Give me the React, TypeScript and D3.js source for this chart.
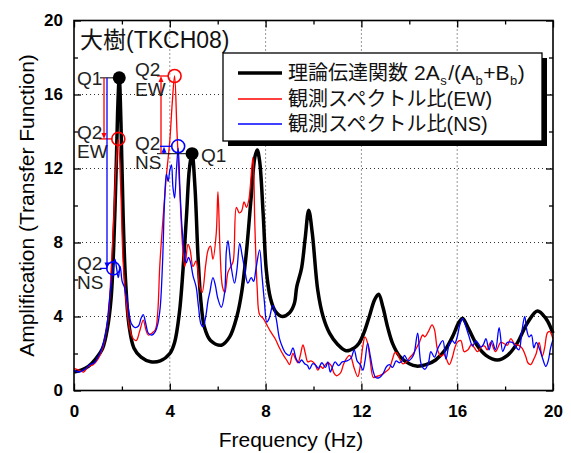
import * as d3 from 'd3';
import { useEffect, useRef } from 'react';

// frequency (Hz), amplification
const theory: [number, number][] = [
  [0, 1.0], [0.3, 1.1], [0.6, 1.3], [0.9, 1.7], [1.2, 2.3], [1.4, 3.4], [1.55, 5.0], [1.65, 7.5],
  [1.75, 11.5], [1.82, 15.0], [1.89, 16.9], [1.96, 14.5], [2.05, 9.5], [2.15, 6.0], [2.3, 3.5],
  [2.5, 2.3], [2.8, 1.8], [3.2, 1.55], [3.6, 1.6], [4.0, 2.0], [4.2, 2.6], [4.4, 4.2], [4.55, 6.5],
  [4.7, 9.5], [4.82, 12.0], [4.93, 12.8], [5.05, 11.0], [5.18, 7.2], [5.3, 4.8], [5.45, 3.4],
  [5.7, 2.7], [6.15, 2.45], [6.5, 2.9], [6.8, 4.0], [7.0, 5.3], [7.2, 7.5], [7.4, 10.5],
  [7.55, 12.6], [7.65, 13.0], [7.75, 12.4], [7.9, 9.5], [8.03, 6.5], [8.2, 5.0], [8.4, 4.3],
  [8.7, 4.0], [9.0, 4.2], [9.2, 4.7], [9.3, 5.6], [9.5, 6.6], [9.65, 8.2], [9.8, 9.75],
  [9.95, 8.5], [10.18, 5.4], [10.4, 4.0], [10.67, 3.1], [11.0, 2.5], [11.36, 2.15], [11.7, 2.3],
  [11.9, 2.55], [12.1, 3.1], [12.33, 4.0], [12.55, 4.9], [12.72, 5.2], [12.9, 4.5], [13.1, 3.4],
  [13.3, 2.55], [13.6, 1.85], [14.0, 1.45], [14.3, 1.32], [14.7, 1.4], [15.1, 1.65], [15.5, 2.2],
  [15.8, 2.9], [16.08, 3.7], [16.22, 3.9], [16.45, 3.4], [16.85, 2.4], [17.2, 1.9], [17.68, 1.65],
  [18.1, 1.9], [18.5, 2.55], [18.93, 3.65], [19.35, 4.3], [19.7, 3.9], [20.0, 3.1],
];

const ratioEW: [number, number][] = [
  [0, 1.2], [0.2, 1.1], [0.4, 1.0], [0.6, 1.3], [0.8, 1.4], [1.0, 1.7], [1.2, 2.3], [1.35, 3.2],
  [1.45, 4.2], [1.55, 6.5], [1.65, 9.0], [1.75, 12.0], [1.85, 13.6], [1.95, 11.0], [2.05, 7.0],
  [2.2, 4.5], [2.33, 3.3], [2.47, 2.8], [2.6, 2.7], [2.74, 3.2], [2.89, 3.8], [3.0, 3.3],
  [3.1, 3.0], [3.25, 3.1], [3.4, 3.3], [3.5, 4.3], [3.58, 6.7], [3.7, 9.0], [3.85, 11.5],
  [4.0, 13.5], [4.1, 15.5], [4.2, 17.0], [4.3, 14.0], [4.42, 10.7], [4.55, 7.5], [4.63, 6.7],
  [4.76, 7.9], [4.85, 7.6], [4.97, 6.7], [5.1, 7.0], [5.25, 5.6], [5.35, 5.3], [5.5, 6.8],
  [5.6, 7.6], [5.7, 7.8], [5.8, 7.1], [5.94, 8.5], [6.01, 10.75], [6.1, 7.5], [6.2, 5.6],
  [6.3, 5.3], [6.43, 6.4], [6.55, 6.7], [6.65, 7.0], [6.78, 9.9], [6.9, 9.6], [7.0, 9.7],
  [7.1, 10.2], [7.2, 9.9], [7.3, 10.3], [7.47, 12.6], [7.55, 9.0], [7.65, 5.5], [7.75, 4.1],
  [7.9, 3.9], [8.03, 3.6], [8.2, 3.2], [8.4, 2.8], [8.58, 2.3], [8.75, 1.9], [8.9, 1.6],
  [9.0, 1.4], [9.14, 2.0], [9.25, 1.7], [9.35, 1.5], [9.45, 1.9], [9.56, 2.46], [9.66, 2.0],
  [9.76, 1.55], [9.9, 1.6], [10.05, 1.45], [10.18, 1.1], [10.3, 1.3], [10.39, 1.2], [10.5, 1.4],
  [10.6, 1.5], [10.74, 1.35], [10.85, 0.95], [10.95, 0.8], [11.05, 0.85], [11.15, 1.0],
  [11.25, 1.4], [11.36, 1.7], [11.5, 1.9], [11.57, 1.8], [11.7, 1.2], [11.85, 0.75], [11.95, 1.3],
  [12.06, 2.4], [12.15, 2.9], [12.25, 2.6], [12.35, 1.8], [12.5, 0.7], [12.6, 0.75], [12.75, 0.8],
  [12.9, 0.9], [13.05, 1.05], [13.17, 1.2], [13.3, 1.7], [13.4, 2.05], [13.5, 2.0], [13.6, 1.7],
  [13.72, 1.45], [13.85, 1.5], [14.0, 1.75], [14.17, 2.0], [14.3, 2.3], [14.42, 2.6], [14.56, 3.0],
  [14.65, 2.9], [14.8, 3.2], [14.95, 3.55], [15.05, 3.3], [15.18, 2.2], [15.32, 1.85],
  [15.45, 1.95], [15.55, 1.7], [15.67, 1.4], [15.8, 1.8], [15.9, 2.3], [16.0, 2.6], [16.15, 2.7],
  [16.29, 2.1], [16.45, 2.2], [16.6, 2.5], [16.72, 2.3], [16.85, 2.1], [17.0, 2.35], [17.15, 2.4],
  [17.25, 2.2], [17.4, 2.6], [17.6, 2.1], [17.82, 2.6], [18.0, 2.5], [18.1, 2.45], [18.24, 2.8],
  [18.4, 2.5], [18.55, 2.45], [18.7, 2.3], [18.86, 1.85], [18.95, 1.5], [19.07, 1.4], [19.2, 1.7],
  [19.3, 2.0], [19.42, 2.6], [19.55, 1.85], [19.65, 2.3], [19.76, 3.1], [19.85, 3.2], [20.0, 2.8],
];

const ratioNS: [number, number][] = [
  [0, 1.1], [0.2, 1.0], [0.39, 1.1], [0.55, 1.25], [0.67, 1.4], [0.85, 1.5], [1.0, 1.8],
  [1.08, 2.0], [1.22, 2.5], [1.36, 3.3], [1.45, 4.5], [1.55, 5.8], [1.64, 6.6], [1.71, 7.1],
  [1.78, 6.6], [1.85, 6.1], [1.93, 6.7], [2.01, 5.9], [2.1, 5.6], [2.2, 5.0], [2.3, 4.2],
  [2.4, 3.6], [2.55, 3.4], [2.7, 3.5], [2.8, 3.9], [2.89, 4.1], [3.0, 3.6], [3.1, 3.1],
  [3.25, 3.0], [3.4, 3.2], [3.5, 3.6], [3.6, 4.5], [3.7, 7.0], [3.78, 10.2], [3.86, 11.7],
  [3.93, 11.3], [4.0, 11.9], [4.07, 12.2], [4.13, 11.0], [4.2, 10.4], [4.28, 12.0], [4.35, 13.1],
  [4.42, 11.0], [4.5, 9.0], [4.6, 7.5], [4.69, 6.9], [4.78, 7.2], [4.87, 6.9], [4.97, 6.2],
  [5.1, 5.6], [5.2, 4.5], [5.3, 3.6], [5.39, 3.45], [5.5, 4.0], [5.6, 4.9], [5.67, 5.3],
  [5.8, 6.1], [5.9, 5.7], [6.0, 5.0], [6.15, 4.5], [6.29, 5.3], [6.36, 7.5], [6.43, 8.1],
  [6.55, 6.8], [6.7, 5.8], [6.8, 6.5], [6.92, 7.95], [7.02, 7.3], [7.12, 6.6], [7.26, 5.8],
  [7.4, 6.1], [7.5, 5.9], [7.6, 6.6], [7.75, 7.6], [7.85, 6.2], [7.95, 4.8], [8.05, 3.7],
  [8.15, 3.9], [8.3, 4.6], [8.44, 3.9], [8.58, 2.8], [8.72, 2.3], [8.85, 2.0], [9.0, 1.9],
  [9.14, 2.3], [9.28, 1.7], [9.4, 1.5], [9.5, 1.65], [9.63, 1.45], [9.75, 1.35], [9.83, 1.15],
  [9.97, 1.45], [10.1, 1.35], [10.2, 1.2], [10.35, 1.5], [10.5, 1.25], [10.6, 1.55], [10.7, 1.0],
  [10.8, 1.3], [10.9, 1.55], [11.05, 1.35], [11.2, 1.55], [11.4, 1.6], [11.57, 1.75], [11.7, 2.2],
  [11.82, 1.6], [11.95, 1.4], [12.06, 1.1], [12.15, 1.6], [12.26, 2.55], [12.38, 1.8], [12.5, 1.0],
  [12.6, 0.7], [12.75, 0.7], [12.9, 0.9], [13.05, 1.3], [13.17, 1.4], [13.3, 1.25], [13.45, 1.6],
  [13.58, 1.5], [13.7, 1.6], [13.8, 1.9], [13.95, 1.6], [14.1, 1.75], [14.2, 2.0], [14.35, 3.1],
  [14.5, 1.4], [14.65, 1.15], [14.8, 1.5], [14.9, 2.1], [15.05, 1.8], [15.2, 2.3], [15.4, 2.7],
  [15.53, 1.7], [15.67, 2.5], [15.8, 2.7], [15.9, 2.55], [16.0, 2.9], [16.1, 3.5], [16.22, 3.9],
  [16.35, 3.5], [16.5, 2.9], [16.64, 2.4], [16.78, 2.7], [16.9, 2.5], [16.99, 2.35], [17.1, 2.5],
  [17.2, 2.8], [17.33, 2.2], [17.45, 2.7], [17.6, 2.2], [17.75, 3.4], [17.9, 2.1], [18.0, 2.4],
  [18.1, 2.6], [18.3, 2.6], [18.45, 2.35], [18.58, 2.2], [18.7, 3.2], [18.82, 4.0], [18.9, 3.3],
  [19.0, 2.9], [19.1, 3.0], [19.2, 2.3], [19.3, 2.6], [19.45, 2.2], [19.55, 1.8], [19.7, 1.3],
  [19.8, 1.6], [19.9, 2.3], [20.0, 2.75],
];

const majorTicks = [0, 4, 8, 12, 16, 20];
const minorTicks = [2, 6, 10, 14, 18];

// peak markers: Q1 = theory, Q2 = observed
const q1Left: [number, number] = [1.89, 16.9];
const q2EwLeft: [number, number] = [1.85, 13.6];
const q2NsLeft: [number, number] = [1.64, 6.6];
const q1Mid: [number, number] = [4.93, 12.8];
const q2EwMid: [number, number] = [4.2, 17.0];
const q2NsMid: [number, number] = [4.35, 13.2];

const RED = '#ff0000';
const BLUE = '#0000ff';
const FONT = '"Liberation Sans", Arial, sans-serif';
const MIXED = '"Liberation Sans", "Noto Sans CJK JP", sans-serif';

export default function App() {
  const ref = useRef<SVGSVGElement>(null);
  const width = 571;
  const height = 453;
  const margin = { top: 20.5, right: 18, bottom: 62.5, left: 74 };

  useEffect(() => {
    const svg = d3.select(ref.current);
    svg.selectAll('*').remove();

    const x = d3.scaleLinear([0, 20], [margin.left, width - margin.right]);
    const y = d3.scaleLinear([0, 20], [height - margin.bottom, margin.top]);
    const [x0, x1] = x.range();
    const [y0, y1] = y.range();

    // dotted grid
    const grid = svg.append('g').attr('stroke', '#333').attr('stroke-width', 1).attr('stroke-dasharray', '1,3');
    [4, 8, 12, 16].forEach((v) => {
      grid.append('line').attr('x1', x(v)).attr('x2', x(v)).attr('y1', y0).attr('y2', y1);
      grid.append('line').attr('x1', x0).attr('x2', x1).attr('y1', y(v)).attr('y2', y(v));
    });

    const line = d3
      .line<[number, number]>()
      .x((d) => x(d[0]))
      .y((d) => y(d[1]))
      .curve(d3.curveCatmullRom.alpha(0.5));

    svg.append('path').attr('d', line(theory)).attr('fill', 'none').attr('stroke', '#000').attr('stroke-width', 3.5).attr('stroke-linejoin', 'round');
    svg.append('path').attr('d', line(ratioEW)).attr('fill', 'none').attr('stroke', RED).attr('stroke-width', 1.3);
    svg.append('path').attr('d', line(ratioNS)).attr('fill', 'none').attr('stroke', BLUE).attr('stroke-width', 1.3);

    // axes, ticks inward on all four sides
    const addAxis = (axis, transform, labels) => {
      const g = svg.append('g').attr('transform', transform).call(axis);
      g.select('.domain').remove();
      g.selectAll('.tick line').attr('stroke', '#000').attr('stroke-width', 1.3);
      if (labels) {
        g.selectAll('text')
          .attr('font-family', FONT)
          .attr('font-size', 17)
          .attr('font-weight', 'bold')
          .attr('fill', '#000');
      } else {
        g.selectAll('text').remove();
      }
    };
    addAxis(d3.axisBottom(x).tickValues(majorTicks).tickSize(-7).tickPadding(14).tickFormat(d3.format('d')), `translate(0,${y0})`, true);
    addAxis(d3.axisBottom(x).tickValues(minorTicks).tickSize(-4), `translate(0,${y0})`, false);
    addAxis(d3.axisTop(x).tickValues(majorTicks).tickSize(-7), `translate(0,${y1})`, false);
    addAxis(d3.axisTop(x).tickValues(minorTicks).tickSize(-4), `translate(0,${y1})`, false);
    addAxis(d3.axisLeft(y).tickValues(majorTicks).tickSize(-7).tickPadding(11).tickFormat(d3.format('d')), `translate(${x0},0)`, true);
    addAxis(d3.axisLeft(y).tickValues(minorTicks).tickSize(-4), `translate(${x0},0)`, false);
    addAxis(d3.axisRight(y).tickValues(majorTicks).tickSize(-7), `translate(${x1},0)`, false);
    addAxis(d3.axisRight(y).tickValues(minorTicks).tickSize(-4), `translate(${x1},0)`, false);

    svg.append('rect').attr('x', x0).attr('y', y1).attr('width', x1 - x0).attr('height', y0 - y1)
      .attr('fill', 'none').attr('stroke', '#000').attr('stroke-width', 1.6);

    // axis titles
    svg.append('text').attr('x', 291).attr('y', 447).attr('text-anchor', 'middle')
      .attr('font-family', FONT).attr('font-size', 21).text('Frequency (Hz)');
    svg.append('text').attr('transform', `translate(34,${(y0 + y1) / 2}) rotate(-90)`).attr('text-anchor', 'middle')
      .attr('font-family', FONT).attr('font-size', 21).text('Amplification (Transfer Function)');

    // site title
    svg.append('text').attr('x', 80).attr('y', 48).attr('font-family', MIXED).attr('font-size', 23).attr('fill', '#111').text('大樹(TKCH08)');

    // legend
    const lg = svg.append('g');
    const lx = 223, ly = 53, lw = 319, lh = 88;
    lg.append('rect').attr('x', lx + 5).attr('y', ly + 5).attr('width', lw).attr('height', lh).attr('fill', '#000');
    lg.append('rect').attr('x', lx).attr('y', ly).attr('width', lw).attr('height', lh).attr('fill', '#fff').attr('stroke', '#000').attr('stroke-width', 1.3);
    const rows = [
      { color: '#000', w: 3.5, y: 73 },
      { color: RED, w: 1.3, y: 99 },
      { color: BLUE, w: 1.3, y: 124 },
    ];
    rows.forEach((r) => {
      lg.append('line').attr('x1', 238).attr('x2', 282).attr('y1', r.y).attr('y2', r.y).attr('stroke', r.color).attr('stroke-width', r.w);
    });

    // first legend entry: pieces laid out one after another, subscripts lowered
    const pieces = [
      { s: '理論伝達関数', size: 20, dy: 0, gap: 6 },
      { s: '2A', size: 21, dy: 0, gap: 0.5 },
      { s: 's', size: 13, dy: 5, gap: 1.5 },
      { s: '/(A', size: 21, dy: 0, gap: 0.5 },
      { s: 'b', size: 13, dy: 5, gap: 0.5 },
      { s: '+B', size: 21, dy: 0, gap: 0.5 },
      { s: 'b', size: 13, dy: 5, gap: 0.5 },
      { s: ')', size: 21, dy: 0, gap: 0 },
    ];
    let cx = 288;
    pieces.forEach((p) => {
      const t = lg.append('text').attr('x', cx).attr('y', 80 + p.dy)
        .attr('font-family', MIXED).attr('font-size', p.size).attr('fill', '#111').text(p.s);
      const len = (t.node() as SVGTextElement).getComputedTextLength();
      cx += len + p.gap;
    });
    lg.append('text').attr('x', 288).attr('y', 106).attr('font-family', MIXED).attr('font-size', 20).attr('fill', '#111').text('観測スペクトル比(EW)');
    lg.append('text').attr('x', 288).attr('y', 131).attr('font-family', MIXED).attr('font-size', 20).attr('fill', '#111').text('観測スペクトル比(NS)');

    // annotations
    const ann = svg.append('g');
    const label = (tx, ty, s) =>
      ann.append('text').attr('x', tx).attr('y', ty).attr('font-family', FONT).attr('font-size', 19).attr('fill', '#222').text(s);
    const seg = (xa, ya, xb, yb, c, w = 1.3) =>
      ann.append('line').attr('x1', xa).attr('y1', ya).attr('x2', xb).attr('y2', yb).attr('stroke', c).attr('stroke-width', w);
    const head = (hx, hy, dir, c) =>
      ann.append('path').attr('d', `M${hx},${hy}L${hx - 2.5},${hy - dir * 6}L${hx + 2.5},${hy - dir * 6}Z`).attr('fill', c);
    const ring = (p, c) =>
      ann.append('circle').attr('cx', x(p[0])).attr('cy', y(p[1])).attr('r', 6.5).attr('fill', 'none').attr('stroke', c).attr('stroke-width', 1.6);
    const dot = (p) => ann.append('circle').attr('cx', x(p[0])).attr('cy', y(p[1])).attr('r', 6.5).attr('fill', '#000');

    // left peak
    seg(100, y(q1Left[1]), x(q1Left[0]), y(q1Left[1]), '#000', 1);
    label(77, y(q1Left[1]) + 7, 'Q1');
    seg(104, y(q1Left[1]), 104, y(q2EwLeft[1]) - 4, RED);
    head(104, y(q2EwLeft[1]), 1, RED);
    seg(99, y(q2EwLeft[1]), x(q2EwLeft[0]) - 6, y(q2EwLeft[1]), RED);
    label(77, y(q2EwLeft[1]), 'Q2');
    label(77, y(q2EwLeft[1]) + 19, 'EW');
    seg(107, y(q1Left[1]), 107, y(q2NsLeft[1]) - 4, BLUE);
    head(107, y(q2NsLeft[1]), 1, BLUE);
    seg(100, y(q2NsLeft[1]), x(q2NsLeft[0]) - 6, y(q2NsLeft[1]), BLUE);
    label(77, y(q2NsLeft[1]) + 2, 'Q2');
    label(77, y(q2NsLeft[1]) + 21, 'NS');
    dot(q1Left);
    ring(q2EwLeft, RED);
    ring(q2NsLeft, BLUE);

    // middle peak
    seg(157, y(q1Mid[1]), x(q1Mid[0]), y(q1Mid[1]), '#000', 1);
    label(201, y(q1Mid[1]) + 8, 'Q1');
    seg(161, y(q1Mid[1]), 161, y(q2EwMid[1]) + 4, RED);
    head(161, y(q2EwMid[1]), -1, RED);
    seg(157, y(q2EwMid[1]), x(q2EwMid[0]) - 6, y(q2EwMid[1]), RED);
    label(135, y(q2EwMid[1]), 'Q2');
    label(135, y(q2EwMid[1]) + 20, 'EW');
    seg(164, y(q1Mid[1]), 164, y(q2NsMid[1]) + 3, BLUE);
    head(164, y(q2NsMid[1]) + 0.5, -1, BLUE);
    seg(160, y(q2NsMid[1]), x(q2NsMid[0]) - 6, y(q2NsMid[1]), BLUE);
    label(135, y(q2NsMid[1]) + 4, 'Q2');
    label(135, y(q2NsMid[1]) + 23, 'NS');
    dot(q1Mid);
    ring(q2EwMid, RED);
    ring(q2NsMid, BLUE);
  }, []);

  return (
    <svg
      ref={ref}
      width={width}
      height={height}
      style={{ position: 'absolute', left: 0, top: 0, background: '#fff' }}
    ></svg>
  );
}
